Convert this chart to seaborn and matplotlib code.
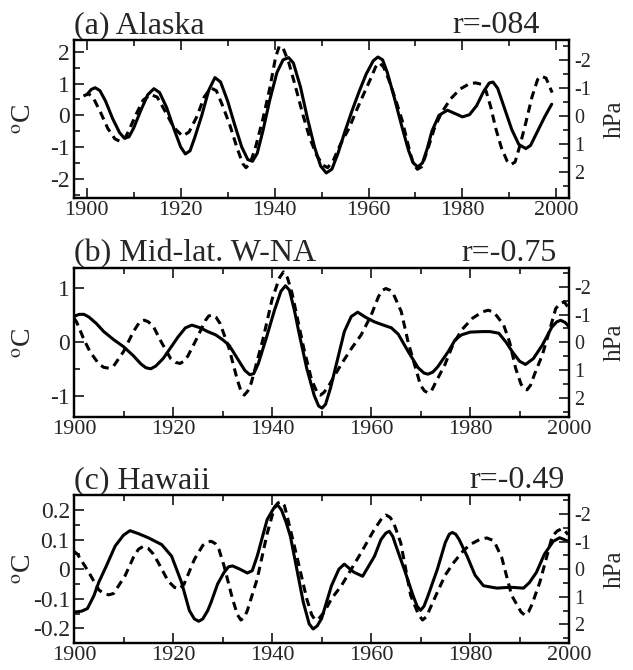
import numpy as np
import matplotlib
matplotlib.use("Agg")
import matplotlib.pyplot as plt
import seaborn as sns
from matplotlib.ticker import MultipleLocator

sns.set_style("ticks")
plt.rcParams['font.family'] = ['Liberation Serif', 'DejaVu Serif']
plt.rcParams['mathtext.fontset'] = 'stix'
plt.rcParams['axes.unicode_minus'] = False

# ---- (a) Alaska : temperature (degC, solid) and SLP (hPa, dashed, right axis reversed)
yr_a_t = [1900, 1901, 1901.8, 1902.8, 1904, 1905.5, 1907, 1908, 1909, 1910,
          1911.5, 1913, 1914.3, 1915.5, 1917, 1918.5, 1920, 1921, 1922, 1923,
          1924.5, 1926, 1927.3, 1928.5, 1930, 1931.5, 1933, 1934.3, 1935.3, 1936.3,
          1937.5, 1939, 1940.5, 1941.8, 1943, 1944, 1945.5, 1947, 1948.5, 1949.8,
          1951, 1952.2, 1953.5, 1955, 1956.5, 1958, 1959.5, 1961, 1962, 1963,
          1964, 1965.5, 1967, 1968.5, 1969.5, 1970.5, 1971.5, 1972.5, 1973.5, 1975,
          1976.8, 1978.5, 1980, 1981.5, 1983, 1984.5, 1985.7, 1986.5, 1987.5, 1989,
          1990.5, 1992, 1993.5, 1994.5, 1996, 1997.5, 1999]
temp_a = [0.65, 0.82, 0.87, 0.78, 0.45, -0.1, -0.55, -0.72, -0.68, -0.4,
          0.15, 0.65, 0.84, 0.72, 0.25, -0.4, -1.0, -1.22, -1.12, -0.7,
          0.0, 0.8, 1.19, 1.05, 0.45, -0.3, -1.0, -1.4, -1.45, -1.2,
          -0.5, 0.5, 1.35, 1.75, 1.82, 1.65, 0.9, -0.1, -1.0, -1.6,
          -1.82, -1.7, -1.2, -0.5, 0.15, 0.75, 1.3, 1.72, 1.84, 1.75,
          1.35, 0.55, -0.3, -1.1, -1.5, -1.63, -1.5, -1.05, -0.5, 0.0,
          0.16, 0.05, -0.05, 0.02, 0.3, 0.75, 1.02, 1.05, 0.85, 0.2,
          -0.45, -0.92, -1.05, -0.95, -0.5, -0.05, 0.35]
yr_a_p = [1899.3, 1900.4, 1901.5, 1903, 1904.5, 1906, 1907, 1908, 1909, 1910.5,
          1912, 1913.6, 1915, 1916.5, 1918.5, 1920.4, 1921.8, 1923.5, 1925, 1926.4,
          1927.6, 1929, 1930.5, 1932, 1933.2, 1933.9, 1934.8, 1936, 1937.5, 1939,
          1940.2, 1941, 1941.8, 1943, 1944.5, 1946, 1947.5, 1949, 1950.3, 1951.3,
          1952.5, 1954, 1955.9, 1957.5, 1959, 1960.5, 1961.5, 1962.3, 1963.2, 1964.3,
          1965.8, 1967.2, 1968.5, 1969.5, 1970.4, 1971.3, 1972.5, 1974, 1975.5, 1977.5,
          1979.5, 1981.5, 1982.8, 1984, 1985, 1986, 1987.1, 1988.3, 1989.5, 1990.3,
          1991.2, 1992.3, 1993.5, 1994.8, 1996, 1996.8, 1997.8, 1999.1]
slp_a = [-0.72, -0.80, -0.62, -0.11, 0.45, 0.82, 0.90, 0.84, 0.51, -0.06,
         -0.57, -0.77, -0.68, -0.23, 0.40, 0.72, 0.57, 0.0, -0.68, -1.01,
         -0.91, -0.34, 0.34, 1.14, 1.70, 1.85, 1.70, 1.08, 0.11, -1.02,
         -2.10, -2.51, -2.44, -1.93, -1.02, -0.06, 0.80, 1.42, 1.76, 1.85,
         1.59, 1.02, 0.42, -0.23, -0.80, -1.36, -1.76, -1.91, -1.76, -1.31,
         -0.57, 0.18, 1.08, 1.70, 1.91, 1.82, 1.25, 0.45, -0.11, -0.62,
         -0.97, -1.16, -1.19, -1.14, -0.91, -0.34, 0.45, 1.14, 1.61, 1.74,
         1.65, 1.02, 0.23, -0.68, -1.31, -1.43, -1.36, -0.84]

# ---- (b) Mid-lat. W-NA
yr_b_t = [1900, 1901, 1902, 1903, 1904.5, 1906, 1908, 1910, 1912, 1913.5,
          1914.5, 1915.5, 1916.5, 1918, 1919.5, 1921, 1922.5, 1923.8, 1925.5, 1927,
          1928.6, 1930, 1931.3, 1933, 1934.5, 1935.5, 1936.3, 1937.2, 1938.8, 1940.5,
          1941.8, 1942.7, 1943.5, 1944.5, 1945.5, 1947, 1948.5, 1949.4, 1950.1, 1950.8,
          1951.8, 1953, 1954.6, 1956, 1957.3, 1959, 1960.7, 1962.5, 1964.1, 1965.5,
          1967.5, 1969.5, 1970.7, 1971.5, 1972.5, 1973.5, 1975.6, 1977, 1978.3, 1980,
          1982.4, 1984, 1985.8, 1987.3, 1988.5, 1990, 1991.2, 1992.8, 1994.6, 1996.5,
          1997.5, 1998.3, 1999.2, 2000]
temp_b = [0.48, 0.52, 0.52, 0.47, 0.35, 0.2, 0.05, -0.08, -0.25, -0.4,
          -0.47, -0.49, -0.44, -0.3, -0.1, 0.1, 0.27, 0.32, 0.27, 0.2,
          0.14, 0.05, -0.05, -0.3, -0.52, -0.6, -0.58, -0.4, 0.07, 0.6,
          0.95, 1.05, 0.97, 0.6, 0.15, -0.48, -0.98, -1.18, -1.22, -1.15,
          -0.85, -0.4, 0.2, 0.48, 0.56, 0.46, 0.38, 0.32, 0.27, 0.15,
          -0.17, -0.47, -0.57, -0.59, -0.55, -0.45, -0.17, 0.05, 0.14, 0.19,
          0.2, 0.2, 0.17, 0.0, -0.17, -0.35, -0.41, -0.3, -0.05, 0.28,
          0.38, 0.41, 0.37, 0.29]
yr_b_p = [1900, 1900.5, 1902, 1903.2, 1905, 1906, 1907, 1908, 1910, 1912,
          1913.3, 1914.2, 1915, 1916, 1917.6, 1919.5, 1920.5, 1921.4, 1922.2, 1923,
          1924.8, 1926.5, 1927.2, 1927.9, 1928.7, 1929.5, 1931.3, 1933, 1933.8, 1934.4,
          1935.1, 1935.8, 1938.2, 1940, 1941.5, 1942.3, 1943.1, 1944, 1945, 1946.4,
          1948, 1949.2, 1949.8, 1950.5, 1951.5, 1953.9, 1956, 1958, 1960, 1961.5,
          1962.3, 1963, 1963.8, 1964.5, 1966.1, 1967.5, 1968.8, 1970, 1970.8, 1971.5,
          1972.2, 1973, 1974.9, 1976.5, 1978.3, 1980.5, 1982.5, 1983.7, 1984.8, 1985.5,
          1986.8, 1988, 1989.2, 1990.3, 1991, 1991.5, 1992.2, 1993, 1994.6, 1996,
          1997.3, 1998.2, 1999, 2000]
slp_b = [-0.87, -0.74, -0.10, 0.33, 0.78, 0.90, 0.93, 0.85, 0.33, -0.39,
         -0.75, -0.80, -0.74, -0.58, -0.02, 0.58, 0.72, 0.76, 0.68, 0.49,
         -0.14, -0.78, -0.95, -0.99, -0.90, -0.68, 0.21, 1.36, 1.80, 1.90,
         1.75, 1.46, -0.14, -1.55, -2.33, -2.54, -2.33, -1.80, -0.97, 0.21,
         1.36, 1.84, 1.90, 1.80, 1.55, 0.81, 0.23, -0.27, -0.97, -1.65,
         -1.88, -1.94, -1.88, -1.75, -1.11, 0.0, 0.81, 1.55, 1.75, 1.82,
         1.75, 1.46, 0.81, 0.10, -0.45, -0.87, -1.10, -1.16, -1.08, -0.93,
         -0.62, 0.0, 0.93, 1.51, 1.67, 1.71, 1.55, 1.16, 0.45, -0.39,
         -1.22, -1.40, -1.46, -1.22]

# ---- (c) Hawaii
yr_c_t = [1900, 1901.5, 1902.7, 1904, 1905, 1906.5, 1908.3, 1910, 1911.3, 1913,
          1915, 1917.7, 1919.7, 1921.7, 1923.3, 1924.3, 1925.2, 1926, 1927, 1927.7,
          1929, 1930.3, 1931.2, 1932, 1933.5, 1935, 1936, 1937, 1939, 1940.3,
          1941.1, 1941.9, 1942.8, 1943.7, 1945, 1946.3, 1947.5, 1948.3, 1949.1, 1950,
          1952, 1953.5, 1954.6, 1956.5, 1958.3, 1960.7, 1962, 1963, 1963.7, 1964.4,
          1965, 1966.7, 1968.5, 1969.3, 1970, 1970.7, 1971.5, 1973.4, 1975, 1975.8,
          1976.4, 1977.1, 1977.8, 1979.4, 1981, 1982.7, 1985.4, 1988.1, 1990.8, 1992,
          1993.4, 1995, 1996.8, 1998.1, 1999, 1999.8]
temp_c = [-0.145, -0.142, -0.133, -0.09, -0.044, 0.01, 0.078, 0.115, 0.13, 0.12,
          0.106, 0.083, 0.044, -0.044, -0.14, -0.168, -0.176, -0.168, -0.14, -0.111,
          -0.05, -0.011, 0.008, 0.011, 0.0, -0.013, -0.005, 0.044, 0.167, 0.205,
          0.217, 0.2, 0.16, 0.111, 0.0, -0.111, -0.185, -0.202, -0.192, -0.167,
          -0.056, 0.0, 0.017, -0.01, -0.024, 0.044, 0.1, 0.122, 0.128, 0.11,
          0.08, 0.0, -0.09, -0.125, -0.139, -0.125, -0.09, 0.0, 0.09, 0.118,
          0.124, 0.118, 0.1, 0.044, -0.02, -0.056, -0.064, -0.061, -0.064, -0.045,
          -0.011, 0.05, 0.094, 0.106, 0.1, 0.094]
yr_c_p = [1900, 1900.7, 1903, 1905, 1906, 1907, 1908, 1909, 1910.3, 1912,
          1913, 1914, 1915, 1916, 1917, 1919, 1920.3, 1921.3, 1922.2, 1923,
          1924.3, 1926, 1926.9, 1927.7, 1928.5, 1929.3, 1930.3, 1932, 1933, 1933.7,
          1934.4, 1935, 1937, 1939, 1940.5, 1941.2, 1941.8, 1942.5, 1943, 1945,
          1947, 1948, 1948.7, 1949.4, 1950.6, 1952, 1954, 1956, 1958, 1960.5,
          1962.2, 1963, 1963.8, 1964.5, 1966, 1968, 1969.6, 1970.4, 1971.2, 1972,
          1973.4, 1975, 1976.7, 1978.5, 1980, 1982, 1983.4, 1984.5, 1985, 1986.4,
          1988.4, 1990.3, 1991.1, 1991.8, 1992.5, 1994.1, 1996.6, 1997.6, 1998.5, 1999.2,
          1999.8]
slp_c = [-0.64, -0.54, 0.12, 0.75, 0.88, 0.93, 0.88, 0.60, 0.24, -0.43,
         -0.72, -0.83, -0.75, -0.55, -0.24, 0.43, 0.66, 0.72, 0.55, 0.21,
         -0.35, -0.86, -0.98, -1.01, -0.93, -0.70, -0.12, 1.07, 1.65, 1.84,
         1.75, 1.50, 0.35, -1.28, -2.25, -2.40, -2.44, -2.30, -1.95, -0.47,
         1.07, 1.65, 1.84, 1.80, 1.54, 1.07, 0.60, 0.0, -0.60, -1.39,
         -1.85, -1.96, -1.88, -1.71, -0.95, 0.95, 1.65, 1.84, 1.72, 1.39,
         0.83, 0.21, -0.24, -0.64, -0.89, -1.08, -1.13, -1.05, -0.96, -0.42,
         0.95, 1.55, 1.67, 1.55, 1.28, 0.47, -1.19, -1.38, -1.46, -1.38,
         -1.25]

panels = [
    dict(title='(a) Alaska', r='r=-084', rx=0.941, yt=yr_a_t, t=temp_a, yp=yr_a_p, p=slp_a,
         rect=[0.117, 0.704, 0.782, 0.236], xlim=(1897.3, 2002.7), ylim=(-2.62, 2.37),
         y2lim=(2.95, -2.72), ymaj=1, ymin=0.5),
    dict(title='(b) Mid-lat. W-NA', r='r=-0.75', rx=0.975, yt=yr_b_t, t=temp_b, yp=yr_b_p, p=slp_b,
         rect=[0.117, 0.378, 0.782, 0.222], xlim=(1900, 2000), ylim=(-1.38, 1.38),
         y2lim=(2.68, -2.68), ymaj=1, ymin=0.5),
    dict(title='(c) Hawaii', r='r=-0.49', rx=0.992, yt=yr_c_t, t=temp_c, yp=yr_c_p, p=slp_c,
         rect=[0.117, 0.040, 0.782, 0.221], xlim=(1900, 2000), ylim=(-0.25, 0.25),
         y2lim=(2.68, -2.68), ymaj=0.1, ymin=0.05),
]

fig = plt.figure(figsize=(6.33, 6.7), dpi=100)

for pn in panels:
    ax = fig.add_axes(pn['rect'])
    ax2 = ax.twinx()
    sns.lineplot(x=pn['yt'], y=pn['t'], ax=ax, color='black', lw=2.2, estimator=None)
    sns.lineplot(x=pn['yp'], y=pn['p'], ax=ax2, color='black', lw=2.2, estimator=None)
    ax2.lines[0].set_linestyle((0, (2.7, 1.8)))
    for ln in ax.lines + ax2.lines:
        ln.set_solid_joinstyle('round')
        ln.set_dash_joinstyle('round')

    ax.set_xlim(*pn['xlim'])
    ax.set_ylim(*pn['ylim'])
    ax2.set_ylim(*pn['y2lim'])

    ax.xaxis.set_major_locator(MultipleLocator(20))
    ax.xaxis.set_minor_locator(MultipleLocator(10))
    ax.yaxis.set_major_locator(MultipleLocator(pn['ymaj']))
    ax.yaxis.set_minor_locator(MultipleLocator(pn['ymin']))
    ax2.yaxis.set_minor_locator(MultipleLocator(0.5))
    if pn['ymaj'] < 1:
        ax.set_yticks([-0.2, -0.1, 0, 0.1, 0.2])
        ax.set_yticklabels(['-0.2', '-0.1', '0', '0.1', '0.2'])
    ax2.set_yticks([-2, -1, 0, 1, 2])
    ax2.set_yticklabels(['-2', '-1', '0', '1', '2'])

    ax.tick_params(which='both', direction='in', top=True, right=False, width=1.3)
    ax.tick_params(which='major', length=7, labelsize=17, pad=3)
    ax.tick_params(axis='x', which='major', labelsize=16, pad=2)
    ax.tick_params(which='minor', length=4)
    ax2.tick_params(which='both', direction='in', width=1.3)
    ax2.tick_params(which='major', length=7, labelsize=14.5, pad=4)
    ax2.tick_params(which='minor', length=4)

    for a in (ax, ax2):
        for s in a.spines.values():
            s.set_linewidth(1.6)
            s.set_color('black')

    ax.set_ylabel(r'$^{\rm o}$C', fontsize=20)
    ax.yaxis.set_label_coords(-0.075, 0.5)
    ax2.set_ylabel('hPa', fontsize=18)
    ax2.yaxis.set_label_coords(1.07, 0.5)

    ax.annotate(pn['title'], xy=(0, 1), xycoords='axes fraction', xytext=(0, 5),
                textcoords='offset points', ha='left', va='baseline', fontsize=23)
    ax.annotate(pn['r'], xy=(pn['rx'], 1), xycoords='axes fraction', xytext=(0, 5),
                textcoords='offset points', ha='right', va='baseline', fontsize=23)

fig.savefig('out.png', dpi=100)
